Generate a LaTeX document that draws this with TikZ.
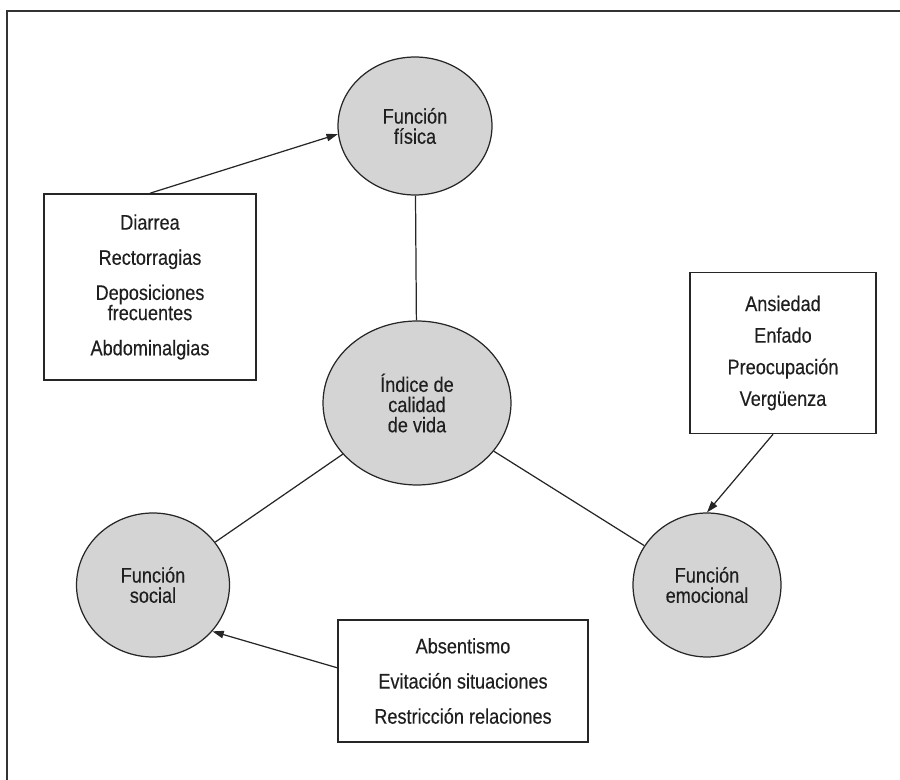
\documentclass[tikz,border=0pt]{standalone}
\usepackage{fontspec}
\setmainfont{Liberation Sans}[FakeStretch=0.86,FakeBold=0.25]
\usetikzlibrary{shapes.geometric,arrows.meta}

\begin{document}
\begin{tikzpicture}[x=0.02cm, y=-0.02cm,
  dim/.style={ellipse, draw=black!85, fill=black!17, line width=0.7pt, inner sep=0pt,
    text=black!88, align=center, font=\fontsize{12}{11.5}\selectfont},
  lista/.style={rectangle, draw=black!85, fill=white, line width=0.9pt, inner sep=0pt,
    text=black!88, align=center, font=\fontsize{12}{11.5}\selectfont},
  >={Triangle[length=6.5pt,width=4.2pt]}]
\useasboundingbox (0,0) rectangle (900,780);
\draw [line width=1.4pt, black!80] (900,11) -- (7,11) -- (7,780);

% dimensiones
\node [dim, minimum width=3.08cm, minimum height=2.76cm] (fisica) at (415,126) {Función\\física};
\node [dim, minimum width=3.76cm, minimum height=3.28cm] (indice) at (417,403) {Índice de\\calidad\\de vida};
\node [dim, minimum width=3.06cm, minimum height=2.88cm] (social) at (153,585) {Función\\social};
\node [dim, minimum width=2.96cm, minimum height=2.88cm] (emocional) at (707,585) {Función\\emocional};

% listas
\node [lista, minimum width=4.24cm, minimum height=3.72cm] (sintomas) at (150,287)
  {Diarrea\\[8.5pt]Rectorragias\\[8.5pt]Deposiciones\\frecuentes\\[8.5pt]Abdominalgias};
\node [lista, minimum width=3.72cm, minimum height=3.22cm] (emociones) at (783,353)
  {Ansiedad\\[6.5pt]Enfado\\[6.5pt]Preocupación\\[6.5pt]Vergüenza};
\node [lista, minimum width=5.0cm, minimum height=2.44cm] (conductas) at (463,681)
  {Absentismo\\[8.5pt]Evitación situaciones\\[8.5pt]Restricción relaciones};

\draw [black!85, line width=0.7pt] (fisica) -- (indice);
\draw [black!85, line width=0.7pt] (indice) -- (social);
\draw [black!85, line width=0.7pt] (indice) -- (emocional);
\draw [black!85, line width=0.7pt, ->] (sintomas.north) -- (fisica.186);
\draw [black!85, line width=0.7pt, ->] (emociones.-97) -- (emocional.north);
\draw [black!85, line width=0.7pt, ->] (conductas.174) -- (social.-38);
\end{tikzpicture}
\end{document}
